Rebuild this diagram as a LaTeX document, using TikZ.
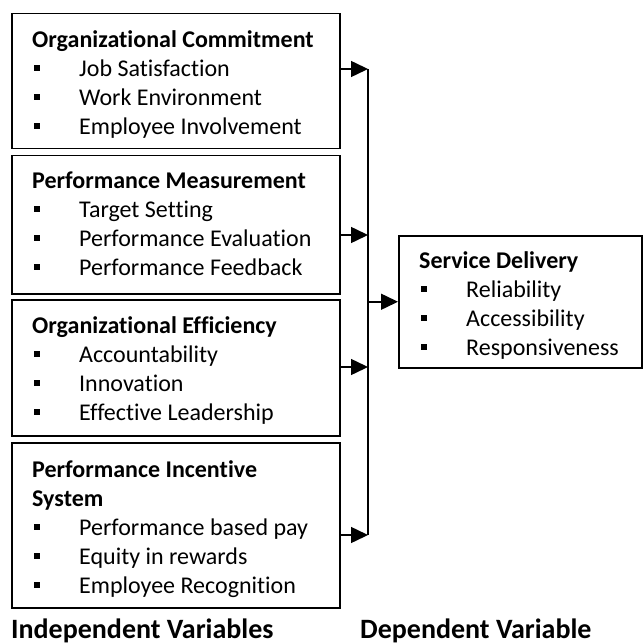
\documentclass[tikz,border=0pt]{standalone}
\usepackage{fontspec}
\setmainfont{Carlito}[Ligatures=NoCommon]
\usetikzlibrary{positioning,arrows.meta,calc}

\newcommand{\bul}{\makebox[47pt][l]{\hspace{2pt}\rule[5pt]{6pt}{6pt}}}

\tikzset{
  varbox/.style={draw, line width=1.5pt, anchor=north west, inner sep=0pt},
  vartext/.style={anchor=north west, inner sep=0pt, align=left, font=\fontsize{24}{29}\selectfont},
  caption/.style={anchor=base west, inner sep=0pt, font=\fontsize{28}{34}\selectfont\bfseries},
  arrow/.style={-{Triangle[length=17pt,width=16pt]}, line width=1.5pt},
  bus/.style={line width=1.5pt}
}

\begin{document}
\begin{tikzpicture}[x=1pt, y=-1pt]
    \useasboundingbox (0,0) rectangle (642,644);
    % independent variables
    \node[varbox, minimum width=328pt, minimum height=135pt] (oc) at (11,13) {};
    \node[varbox, minimum width=328pt, minimum height=138pt] (pm) at (11,155) {};
    \node[varbox, minimum width=328pt, minimum height=136pt] (oe) at (11,299) {};
    \node[varbox, minimum width=328pt, minimum height=165pt] (pis) at (11,442) {};
    \node[vartext] (octext) at (32,26.7) {\strut\textbf{Organizational Commitment}\\
      \bul Job Satisfaction\\ \bul Work Environment\\ \bul Employee Involvement};
    \node[vartext] (pmtext) at (32,167.7) {\strut\textbf{Performance Measurement}\\
      \bul Target Setting\\ \bul Performance Evaluation\\ \bul Performance Feedback};
    \node[vartext] (oetext) at (32,312.7) {\strut\textbf{Organizational Efficiency}\\
      \bul Accountability\\ \bul Innovation\\ \bul Effective Leadership};
    \node[vartext] (pistext) at (32,456.7) {\strut\textbf{Performance Incentive}\\ \textbf{System}\\
      \bul Performance based pay\\ \bul Equity in rewards\\ \bul Employee Recognition};
    % dependent variable
    \node[varbox, minimum width=243pt, minimum height=132pt] (sd) at (398,235) {};
    \node[vartext] (sdtext) at (419,247.7) {\strut\textbf{Service Delivery}\\
      \bul Reliability\\ \bul Accessibility\\ \bul Responsiveness};
    % connectors
    \coordinate (j1) at (368,69);
    \coordinate (j2) at (368,235);
    \coordinate (j3) at (368,367);
    \coordinate (j4) at (368,535);
    \draw[arrow] (oc.east |- j1) -- (j1);
    \draw[arrow] (pm.east |- j2) -- (j2);
    \draw[arrow] (oe.east |- j3) -- (j3);
    \draw[arrow] (pis.east |- j4) -- (j4);
    \draw[bus] (j1) -- (j4);
    \draw[arrow] (j1 |- sd.west) -- (sd.west);
    % captions
    \node[caption] (indep) at (11,638) {Independent Variables};
    \node[caption] (dep) at (360,638) {Dependent Variable};
  \end{tikzpicture}
\end{document}
